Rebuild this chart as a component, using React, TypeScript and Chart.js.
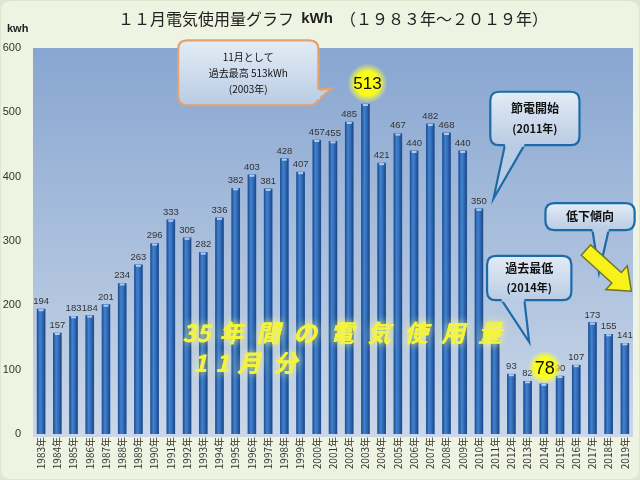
import React, { useEffect, useRef } from "react";
import { Chart, registerables } from "chart.js";

Chart.register(...registerables);

const years: string[] = [
  "1983年", "1984年", "1985年", "1986年", "1987年", "1988年", "1989年", "1990年", "1991年", "1992年",
  "1993年", "1994年", "1995年", "1996年", "1997年", "1998年", "1999年", "2000年", "2001年", "2002年",
  "2003年", "2004年", "2005年", "2006年", "2007年", "2008年", "2009年", "2010年", "2011年", "2012年",
  "2013年", "2014年", "2015年", "2016年", "2017年", "2018年", "2019年",
];
const usage: number[] = [
  194, 157, 183, 184, 201, 234, 263, 296, 333, 305,
  282, 336, 382, 403, 381, 428, 407, 457, 455, 485,
  513, 421, 467, 440, 482, 468, 440, 350, 150, 93,
  82, 78, 90, 107, 173, 155, 141,
];
const yTicks: number[] = [0, 100, 200, 300, 400, 500, 600];
const hiddenLabels: number[] = [20, 28, 31];
const maxIndex = 20;
const minIndex = 31;
const bigLine1: string[] = ["35", "年", "間", "の", "電", "気", "使", "用", "量"];
const bigLine2: string[] = ["1", "1", "月", "分"];

const JP = '"Noto Sans CJK JP", "Noto Sans", sans-serif';
const NUM = '"Liberation Sans", "Noto Sans", sans-serif';

function roundRect(ctx: CanvasRenderingContext2D, x: number, y: number, w: number, h: number, r: number) {
  ctx.beginPath();
  ctx.moveTo(x + r, y);
  ctx.lineTo(x + w - r, y);
  ctx.quadraticCurveTo(x + w, y, x + w, y + r);
  ctx.lineTo(x + w, y + h - r);
  ctx.quadraticCurveTo(x + w, y + h, x + w - r, y + h);
  ctx.lineTo(x + r, y + h);
  ctx.quadraticCurveTo(x, y + h, x, y + h - r);
  ctx.lineTo(x, y + r);
  ctx.quadraticCurveTo(x, y, x + r, y);
  ctx.closePath();
}

function callout(
  ctx: CanvasRenderingContext2D,
  x: number, y: number, w: number, h: number,
  tail: { b1: [number, number]; b2: [number, number]; tip: [number, number] },
  border: string,
  lines: { text: string; font: string }[],
  lineGap: number,
) {
  ctx.save();
  const g = ctx.createLinearGradient(0, y, 0, y + h);
  g.addColorStop(0, "#e4ecf6");
  g.addColorStop(1, "#b9cce4");
  ctx.fillStyle = g;
  ctx.strokeStyle = border;
  ctx.lineWidth = 2.2;
  roundRect(ctx, x, y, w, h, 9);
  ctx.fill();
  ctx.stroke();
  ctx.beginPath();
  ctx.moveTo(tail.b1[0], tail.b1[1]);
  ctx.lineTo(tail.tip[0], tail.tip[1]);
  ctx.lineTo(tail.b2[0], tail.b2[1]);
  ctx.closePath();
  ctx.fill();
  ctx.beginPath();
  ctx.moveTo(tail.b1[0], tail.b1[1]);
  ctx.lineTo(tail.tip[0], tail.tip[1]);
  ctx.lineTo(tail.b2[0], tail.b2[1]);
  ctx.stroke();
  ctx.strokeStyle = g as any;
  ctx.lineWidth = 3;
  ctx.beginPath();
  ctx.moveTo(tail.b1[0], tail.b1[1]);
  ctx.lineTo(tail.b2[0], tail.b2[1]);
  ctx.stroke();
  ctx.fillStyle = "#111";
  ctx.textAlign = "center";
  ctx.textBaseline = "middle";
  const cx = x + w / 2;
  const total = (lines.length - 1) * lineGap;
  lines.forEach((l, i) => {
    ctx.font = l.font;
    ctx.fillText(l.text, cx, y + h / 2 - total / 2 + i * lineGap);
  });
  ctx.restore();
}

function glow(ctx: CanvasRenderingContext2D, cx: number, cy: number, r: number, text: string, size: number) {
  ctx.save();
  const g = ctx.createRadialGradient(cx, cy, 0, cx, cy, r);
  g.addColorStop(0, "rgba(255,255,0,1)");
  g.addColorStop(0.6, "rgba(255,255,20,0.95)");
  g.addColorStop(1, "rgba(255,255,80,0)");
  ctx.fillStyle = g;
  ctx.beginPath();
  ctx.arc(cx, cy, r, 0, Math.PI * 2);
  ctx.fill();
  ctx.fillStyle = "#111";
  ctx.font = `${size}px ${NUM}`;
  ctx.textAlign = "center";
  ctx.textBaseline = "middle";
  ctx.fillText(text, cx, cy + 1);
  ctx.restore();
}

const decorPlugin = {
  id: "decor",
  beforeDraw(chart: any) {
    const { ctx, width, height, chartArea } = chart;
    ctx.save();
    ctx.fillStyle = "#dfe6cf";
    ctx.fillRect(0, 0, width, height);
    ctx.fillStyle = "#eef3e2";
    roundRect(ctx, 1, 1, width - 2, height - 2, 10);
    ctx.fill();
    const g = ctx.createLinearGradient(0, chartArea.top, 0, chartArea.bottom);
    g.addColorStop(0, "#88a6d1");
    g.addColorStop(1, "#cad7e8");
    ctx.fillStyle = g;
    ctx.fillRect(chartArea.left, chartArea.top, chartArea.right - chartArea.left, chartArea.bottom - chartArea.top + 3);
    ctx.fillStyle = "#222";
    ctx.textBaseline = "middle";
    const parts = [
      { t: "１１月電気使用量グラフ  ", f: `16px ${JP}` },
      { t: "kWh", f: `bold 15px ${NUM}` },
      { t: "  （１９８３年～２０１９年）", f: `16px ${JP}` },
    ];
    let tw = 0;
    parts.forEach((p) => { ctx.font = p.f; tw += ctx.measureText(p.t).width; });
    let tx = 333 - tw / 2;
    ctx.textAlign = "left";
    parts.forEach((p) => { ctx.font = p.f; ctx.fillText(p.t, tx, 19); tx += ctx.measureText(p.t).width; });
    ctx.font = `bold 11px ${NUM}`;
    ctx.fillText("kwh", 7, 29);
    ctx.restore();
  },
  afterDatasetsDraw(chart: any) {
    const { ctx } = chart;
    const xs = chart.scales.x;
    const ys = chart.scales.y;
    const meta = chart.getDatasetMeta(0);
    ctx.save();
    meta.data.forEach((bar: any) => {
      const w = bar.width;
      const l = bar.x - w / 2;
      const g = ctx.createLinearGradient(l, 0, l + w, 0);
      g.addColorStop(0, "#1d4d92");
      g.addColorStop(0.35, "#4282cf");
      g.addColorStop(0.6, "#3570bb");
      g.addColorStop(1, "#1b4686");
      ctx.fillStyle = g;
      ctx.fillRect(l, bar.y, w, bar.base - bar.y);
      ctx.fillStyle = "rgba(190,215,245,0.9)";
      ctx.fillRect(l + 1.5, bar.y, w - 3, 2);
    });
    ctx.fillStyle = "#333";
    ctx.font = `9.5px ${NUM}`;
    ctx.textAlign = "center";
    ctx.textBaseline = "bottom";
    meta.data.forEach((bar: any, i: number) => {
      if (hiddenLabels.includes(i)) return;
      ctx.fillText(String(usage[i]), bar.x, bar.y - 3);
    });
    ctx.restore();

    const px = (i: number) => xs.getPixelForValue(i);
    const py = (v: number) => ys.getPixelForValue(v);

    ctx.save();
    ctx.font = `italic bold 24px ${JP}`;
    ctx.textAlign = "left";
    ctx.textBaseline = "alphabetic";
    ctx.fillStyle = "#f4f43c";
    const line2Pos = [9.37, 10.73, 12.08, 14.3];
    const drawBig = () => {
      let x1 = px(8.7);
      bigLine1.forEach((c) => { ctx.fillText(c, x1, py(143)); x1 += px(2.28) - px(0); });
      bigLine2.forEach((c, i) => { ctx.fillText(c, px(line2Pos[i]), py(96)); });
    };
    ctx.shadowColor = "rgba(255,255,120,1)";
    ctx.shadowBlur = 9;
    drawBig();
    ctx.shadowBlur = 0;
    drawBig();
    ctx.restore();

    callout(
      ctx, px(8.45), py(612), px(17.1) - px(8.45), py(511) - py(612),
      { b1: [px(17.1), py(535)], b2: [px(17.1), py(520)], tip: [px(17.9), py(537)] },
      "#e3a36a",
      [
        { text: "11月として", font: `10px ${JP}` },
        { text: "過去最高 513kWh", font: `10px ${JP}` },
        { text: "(2003年)", font: `10px ${JP}` },
      ],
      16,
    );
    glow(ctx, px(maxIndex) + 2, py(usage[maxIndex] + 32), 20, String(usage[maxIndex]), 17);

    callout(
      ctx, px(27.7), py(532), px(33.2) - px(27.7), py(449) - py(532),
      { b1: [px(28.6), py(449)], b2: [px(29.8), py(449)], tip: [px(27.9), py(366)] },
      "#1d6aa8",
      [
        { text: "節電開始", font: `bold 12px ${JP}` },
        { text: "(2011年)", font: `bold 11px ${JP}` },
      ],
      20,
    );
    callout(
      ctx, px(31.1), py(359), px(36.6) - px(31.1), py(317) - py(359),
      { b1: [px(34.0), py(317)], b2: [px(35.0), py(317)], tip: [px(34.4), py(251)] },
      "#1d6aa8",
      [{ text: "低下傾向", font: `bold 12px ${JP}` }],
      18,
    );
    ctx.save();
    const ax = px(33.6), ay = py(286);
    const bx = px(36.4), by = py(222);
    const ang = Math.atan2(by - ay, bx - ax);
    const len = Math.hypot(bx - ax, by - ay);
    ctx.translate(ax, ay);
    ctx.rotate(ang);
    ctx.beginPath();
    ctx.moveTo(0, -7);
    ctx.lineTo(len - 20, -7);
    ctx.lineTo(len - 20, -16);
    ctx.lineTo(len, 0);
    ctx.lineTo(len - 20, 16);
    ctx.lineTo(len - 20, 7);
    ctx.lineTo(0, 7);
    ctx.closePath();
    ctx.fillStyle = "#f6f21a";
    ctx.fill();
    ctx.strokeStyle = "#6f7330";
    ctx.lineWidth = 1.5;
    ctx.stroke();
    ctx.restore();
    callout(
      ctx, px(27.5), py(277), px(32.7) - px(27.5), py(208) - py(277),
      { b1: [px(28.4), py(208)], b2: [px(29.8), py(208)], tip: [px(30.1), py(143)] },
      "#1d6aa8",
      [
        { text: "過去最低", font: `bold 12px ${JP}` },
        { text: "(2014年)", font: `bold 11px ${JP}` },
      ],
      20,
    );
    glow(ctx, px(minIndex) + 1, py(usage[minIndex] + 25), 17, String(usage[minIndex]), 18);
  },
};

export default function App() {
  const ref = useRef<HTMLCanvasElement | null>(null);
  useEffect(() => {
    if (!ref.current) return;
    const chart = new Chart(ref.current, {
      type: "bar",
      data: {
        labels: years,
        datasets: [
          {
            data: usage,
            backgroundColor: "#2f66ae",
            barThickness: 8,
            borderWidth: 0,
          },
        ],
      },
      options: {
        animation: false,
        responsive: false,
        devicePixelRatio: 1,
        layout: { padding: { top: 48, right: 7, left: 0, bottom: 0 } },
        plugins: { legend: { display: false }, tooltip: { enabled: false }, title: { display: false } },
        scales: {
          x: {
            grid: { display: false, drawTicks: false },
            border: { display: false },
            ticks: {
              minRotation: 90,
              maxRotation: 90,
              autoSkip: false,
              padding: 3,
              color: "#333",
              font: { size: 10, family: JP },
            },
            afterFit: (s: any) => { s.height = 46; },
          },
          y: {
            min: 0,
            max: 600,
            afterBuildTicks: (s: any) => { s.ticks = yTicks.map((v) => ({ value: v })); },
            grid: { display: false, drawTicks: false },
            border: { display: false },
            ticks: { padding: 12, color: "#333", font: { size: 11, family: NUM } },
            afterFit: (s: any) => { s.width = 33; },
          },
        },
      },
      plugins: [decorPlugin],
    });
    return () => chart.destroy();
  }, []);
  return (
    <div style={{ position: "fixed", left: 0, top: 0, width: 640, height: 480 }}>
      <canvas ref={ref} width={640} height={480} style={{ width: 640, height: 480 }} />
    </div>
  );
}
